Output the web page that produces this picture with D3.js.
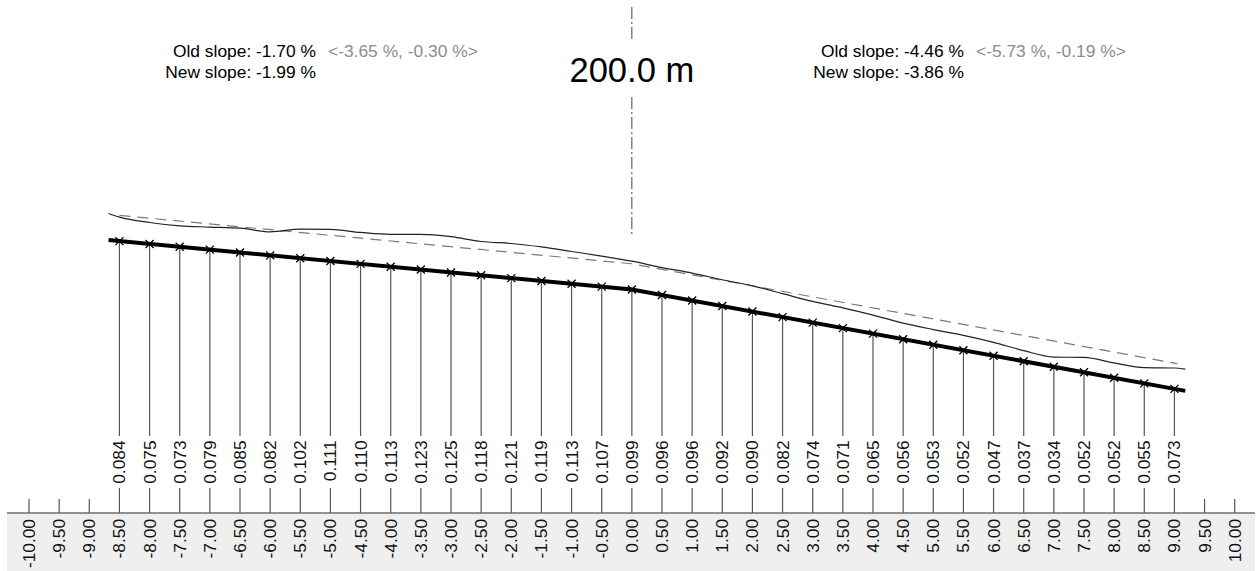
<!DOCTYPE html>
<html>
<head>
<meta charset="utf-8">
<script src="https://cdn.jsdelivr.net/npm/d3@7"></script>
<style>
  html, body { margin: 0; padding: 0; background: #fff; }
  svg { display: block; font-family: "Liberation Sans", Arial, Helvetica, sans-serif; }
</style>
</head>
<body>
<svg id="chart" width="1260" height="571"></svg>
<script>
// Cross-section stations (m from the axis) and the depth written at each one (m)
const stations = [-8.5, -8.0, -7.5, -7.0, -6.5, -6.0, -5.5, -5.0, -4.5, -4.0, -3.5, -3.0,
  -2.5, -2.0, -1.5, -1.0, -0.5, 0.0, 0.5, 1.0, 1.5, 2.0, 2.5, 3.0, 3.5, 4.0, 4.5, 5.0,
  5.5, 6.0, 6.5, 7.0, 7.5, 8.0, 8.5, 9.0];
const depths = [0.084, 0.075, 0.073, 0.079, 0.085, 0.082, 0.102, 0.111, 0.110, 0.113,
  0.123, 0.125, 0.118, 0.121, 0.119, 0.113, 0.107, 0.099, 0.096, 0.096, 0.092, 0.090,
  0.082, 0.074, 0.071, 0.065, 0.056, 0.053, 0.052, 0.047, 0.037, 0.034, 0.052, 0.052,
  0.055, 0.073];

// Offset scale ticks
const axisTicks = [-10.0, -9.5, -9.0, -8.5, -8.0, -7.5, -7.0, -6.5, -6.0, -5.5, -5.0, -4.5,
  -4.0, -3.5, -3.0, -2.5, -2.0, -1.5, -1.0, -0.5, 0.0, 0.5, 1.0, 1.5, 2.0, 2.5, 3.0, 3.5,
  4.0, 4.5, 5.0, 5.5, 6.0, 6.5, 7.0, 7.5, 8.0, 8.5, 9.0, 9.5, 10.0];

// Cross-fall of each side (%), left of the axis and right of it
const newSlopes = [-1.99, -3.86];
const oldSlopes = [-1.70, -4.46];
const oldRanges = [[-3.65, -0.30], [-5.73, -0.19]];

// Extent of the surveyed surface and its depth at both ends
const surfaceExtent = [-8.68, 9.18];
const surfaceEndDepths = [0.093, 0.076];
// Upper layer drawn parallel to the new grade
const layerThickness = 0.09;
const chainage = "200.0 m";

const svg = d3.select("#chart");
const x = d3.scaleLinear().domain([-10, 10]).range([29, 1234.7]);
const y = d3.scaleLinear().domain([-1, 1]).range([575.5, 3.5]);

// New grade elevation (relative to the axis)
const grade = o => (o < 0 ? newSlopes[0] : newSlopes[1]) / 100 * o;

const gradePts = [surfaceExtent[0], 0, surfaceExtent[1]].map(o => [o, grade(o)]);
const layerPts = [stations[0], 0, stations[stations.length - 1] + 0.05].map(o => [o, grade(o) + layerThickness]);
const terrainPts = [[surfaceExtent[0], grade(surfaceExtent[0]) + surfaceEndDepths[0]]]
  .concat(stations.map((s, i) => [s, grade(s) + depths[i]]))
  .concat([[surfaceExtent[1], grade(surfaceExtent[1]) + surfaceEndDepths[1]]]);

const line = d3.line().x(d => x(d[0])).y(d => y(d[1]));
const smooth = d3.line().x(d => x(d[0])).y(d => y(d[1])).curve(d3.curveMonotoneX);

const axisTop = 513;

// Scale band
svg.append("rect").attr("x", 7).attr("y", axisTop).attr("width", 1248).attr("height", 571 - axisTop)
  .attr("fill", "#efefef");
svg.append("line").attr("x1", 7).attr("x2", 1255).attr("y1", axisTop).attr("y2", axisTop)
  .attr("stroke", "#6e6e6e").attr("stroke-width", 1.5);

// Ticks at offsets without a station
const stationSet = new Set(stations.map(s => s.toFixed(2)));
svg.append("g").selectAll("line")
  .data(axisTicks.filter(t => !stationSet.has(t.toFixed(2))))
  .join("line")
  .attr("x1", d => x(d)).attr("x2", d => x(d))
  .attr("y1", 499).attr("y2", axisTop)
  .attr("stroke", "#555").attr("stroke-width", 1.2);

// Tick labels
svg.append("g").selectAll("text")
  .data(axisTicks)
  .join("text")
  .attr("transform", d => `translate(${x(d)},519) rotate(-90)`)
  .attr("dy", "0.35em")
  .attr("text-anchor", "end")
  .attr("font-size", 17.3)
  .attr("fill", "#111")
  .text(d => d.toFixed(2));

// Station verticals with the depth label in a gap
const st = svg.append("g");
st.selectAll("line.up")
  .data(stations)
  .join("line").attr("class", "up")
  .attr("x1", d => x(d)).attr("x2", d => x(d))
  .attr("y1", d => y(grade(d))).attr("y2", 436)
  .attr("stroke", "#555").attr("stroke-width", 1.2);
st.selectAll("line.down")
  .data(stations)
  .join("line").attr("class", "down")
  .attr("x1", d => x(d)).attr("x2", d => x(d))
  .attr("y1", 488).attr("y2", axisTop)
  .attr("stroke", "#555").attr("stroke-width", 1.2);
st.selectAll("text")
  .data(stations)
  .join("text")
  .attr("transform", d => `translate(${x(d)},440.5) rotate(-90)`)
  .attr("dy", "0.35em")
  .attr("text-anchor", "end")
  .attr("font-size", 17.3)
  .attr("fill", "#111")
  .text((d, i) => depths[i].toFixed(3));

// Upper layer (dashed)
svg.append("path").attr("d", line(layerPts))
  .attr("fill", "none").attr("stroke", "#7a7a7a").attr("stroke-width", 1.2)
  .attr("stroke-dasharray", "11,7");

// Existing surface
svg.append("path").attr("d", smooth(terrainPts))
  .attr("fill", "none").attr("stroke", "#222").attr("stroke-width", 1.2);

// New grade
svg.append("path").attr("d", line(gradePts))
  .attr("fill", "none").attr("stroke", "#000").attr("stroke-width", 4);

// Station crosses on the grade
svg.append("g").selectAll("path")
  .data(stations)
  .join("path")
  .attr("d", d => {
    const cx = x(d), cy = y(grade(d)), r = 4;
    return `M${cx - r},${cy - r}L${cx + r},${cy + r}M${cx - r},${cy + r}L${cx + r},${cy - r}`;
  })
  .attr("stroke", "#000").attr("stroke-width", 1.3).attr("fill", "none");

// Centre line
const cl = svg.append("g").attr("stroke", "#444").attr("stroke-width", 1)
  .attr("stroke-dasharray", "12,3,2,3");
cl.append("line").attr("x1", x(0)).attr("x2", x(0)).attr("y1", 7).attr("y2", 42);
cl.append("line").attr("x1", x(0)).attr("x2", x(0)).attr("y1", 97).attr("y2", 234);

svg.append("text").attr("x", x(0)).attr("y", 82)
  .attr("text-anchor", "middle").attr("font-size", 34.5).attr("fill", "#000")
  .text(chainage);

// Slope notes for both sides
const pct = v => v.toFixed(2) + " %";
const notes = [316, 964];
notes.forEach((ax, i) => {
  svg.append("text").attr("x", ax).attr("y", 57).attr("text-anchor", "end")
    .attr("font-size", 17.4).attr("fill", "#000")
    .text("Old slope: " + pct(oldSlopes[i]));
  svg.append("text").attr("x", ax + 12).attr("y", 57).attr("text-anchor", "start")
    .attr("font-size", 17.4).attr("fill", "#8c8c8c")
    .text("<" + pct(oldRanges[i][0]) + ", " + pct(oldRanges[i][1]) + ">");
  svg.append("text").attr("x", ax).attr("y", 78).attr("text-anchor", "end")
    .attr("font-size", 17.4).attr("fill", "#000")
    .text("New slope: " + pct(newSlopes[i]));
});
</script>
</body>
</html>
